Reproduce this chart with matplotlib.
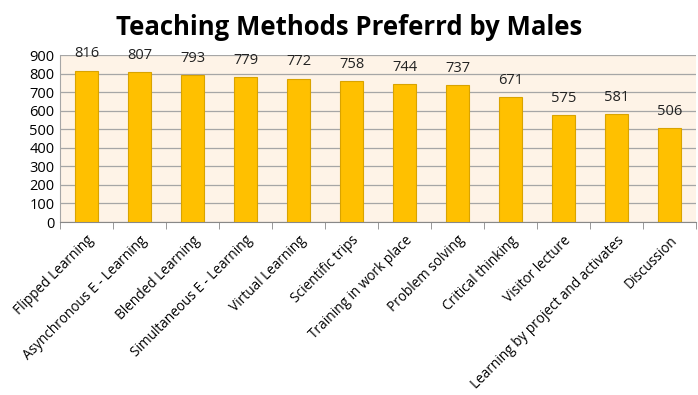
import matplotlib.pyplot as plt

methods = ["Flipped Learning", "Asynchronous E - Learning", "Blended Learning",
           "Simultaneous E - Learning", "Virtual Learning", "Scientific trips",
           "Training in work place", "Problem solving", "Critical thinking",
           "Visitor lecture", "Learning by project and activates", "Discussion"]
counts = [816, 807, 793, 779, 772, 758, 744, 737, 671, 575, 581, 506]

plt.rcParams['font.family'] = ['Open Sans', 'DejaVu Sans']

fig = plt.figure(figsize=(6.98, 3.95), dpi=100)
ax = fig.add_axes([60/698, 1 - 222/395, 636/698, 167/395])
ax.set_facecolor('#FEF3E7')

xs = list(range(len(methods)))
bars = ax.bar(xs, counts, width=0.42, color='#FFC000', edgecolor='#D9A300',
              linewidth=0.8, zorder=3)
for b, v in zip(bars, counts):
    ax.text(b.get_x() + b.get_width()/2, v + 50, str(v), ha='center',
            va='bottom', fontsize=10.5, color='#222222')

ax.set_xlim(-0.5, len(methods) - 0.5)
ax.set_ylim(0, 900)
ax.set_yticks(range(0, 901, 100))
ax.grid(axis='y', color='#A6A6A6', linewidth=0.9, zorder=0)
ax.set_xticks([i - 0.5 for i in xs] + [len(methods) - 0.5], minor=True)
ax.set_xticks(xs)
ax.set_xticklabels(methods, rotation=45, ha='right', rotation_mode='anchor',
                   fontsize=9.8)
ax.tick_params(axis='x', which='major', length=0, pad=8)
ax.tick_params(axis='x', which='minor', length=5, color='#888888')
ax.tick_params(axis='y', length=0, labelsize=10.5, pad=4)
for s in ['top', 'right']:
    ax.spines[s].set_visible(False)
ax.spines['left'].set_color('#A6A6A6')
ax.spines['bottom'].set_color('#888888')

fig.text(0.5, 0.965, "Teaching Methods Preferrd by Males", ha='center',
         va='top', fontsize=18.5, fontweight='bold')

fig.savefig('out.png', dpi=100)
